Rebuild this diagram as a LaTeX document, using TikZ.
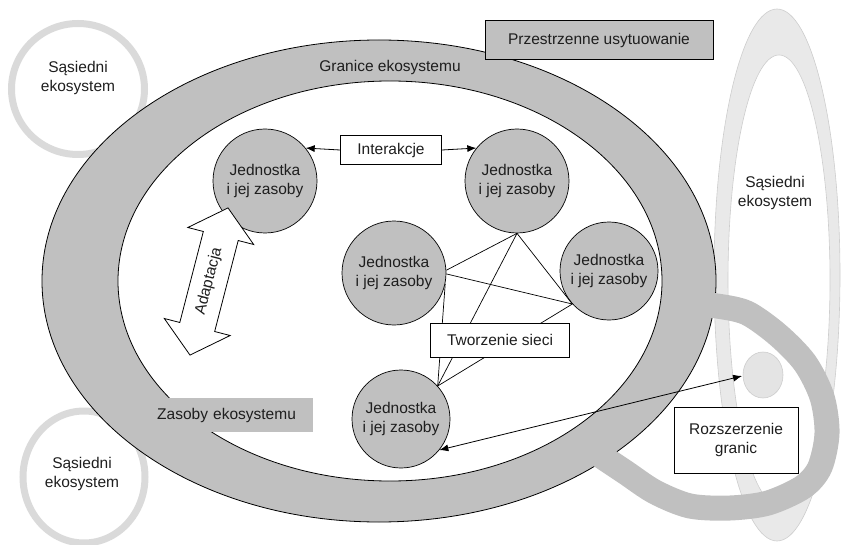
\documentclass[tikz,border=0pt]{standalone}
\usepackage{fontspec}
\setmainfont{Liberation Sans}
\usetikzlibrary{arrows.meta}
\definecolor{ringgray}{RGB}{192,192,192}
\definecolor{nbgray}{RGB}{218,218,218}
\definecolor{nbfill}{RGB}{233,233,233}
\definecolor{nbedge}{RGB}{205,205,205}
\definecolor{spotfill}{RGB}{228,228,228}
\definecolor{txt}{RGB}{30,30,30}
\begin{document}
\begin{tikzpicture}[x=1pt,y=-1pt,
  font=\fontsize{15.5}{19.5}\selectfont, text=txt,
  unit/.style={circle, draw=black, line width=0.7pt, fill=ringgray,
    minimum size=104pt, inner sep=0pt, align=center},
  whitebox/.style={draw=black, line width=0.8pt, fill=white, inner sep=0pt, align=center},
  label/.style={align=center, inner sep=0pt},
  net/.style={line width=0.7pt},
  tipped/.style={line width=0.8pt, -{Latex[length=9pt,width=7pt]}},
  bothtipped/.style={line width=0.8pt, {Latex[length=9pt,width=7pt]}-{Latex[length=9pt,width=7pt]}}]
\useasboundingbox (0,0) rectangle (842,545);

% neighbouring ecosystems on the left
\draw[nbgray, line width=7pt] (78,89) ellipse [x radius=66.5pt, y radius=65.5pt];
\node[label] (nbA) at (78,78) {Sąsiedni\\ekosystem};
\draw[nbgray, line width=7pt] (84,477) ellipse [x radius=61pt, y radius=66pt];
\node[label] (nbB) at (82,474) {Sąsiedni\\ekosystem};

% neighbouring ecosystem on the right
\filldraw[fill=nbfill, draw=nbedge, line width=0.6pt] (777,275) ellipse [x radius=63pt, y radius=266pt];
\filldraw[fill=white, draw=nbedge, line width=0.6pt] (779,280) ellipse [x radius=51pt, y radius=225pt];
\node[label] (nbC) at (775,193) {Sąsiedni\\ekosystem};

% ecosystem boundary ring
\filldraw[fill=ringgray, draw=black, line width=0.8pt] (379,281) ellipse [x radius=337pt, y radius=241pt];

% extension loop of the boundary
\draw[ringgray, line width=25pt] plot[smooth] coordinates {
  (690,304) (717,306) (747,313) (778,335) (805,363) (822,397) (827,433)
  (820,467) (803,487) (768,503) (730,508) (690,506) (655,492) (625,472) (595,452)};

% inner area of the ecosystem
\filldraw[fill=white, draw=black, line width=0.8pt] (390,281) ellipse [x radius=272pt, y radius=200pt];

% labels on the ring
\node[draw=black, line width=0.8pt, fill=ringgray, minimum width=228pt, minimum height=39pt]
  (place) at (599,40) {Przestrzenne usytuowanie};
\node[label] (bound) at (390,67) {Granice ekosystemu};
\node[fill=ringgray, anchor=west, minimum height=34pt, text width=149pt, inner xsep=7pt,
  inner ysep=0pt, align=left] (res) at (150,415) {Zasoby ekosystemu};

% units with their resources
\node[unit] (c1) at (265,181) {Jednostka\\i jej zasoby};
\node[unit] (c2) at (517,181) {Jednostka\\i jej zasoby};
\node[unit] (c3) at (394,273) {Jednostka\\i jej zasoby};
\node[unit, minimum size=98pt] (c4) at (609,271) {Jednostka\\i jej zasoby};
\node[unit, minimum size=98pt] (c5) at (401,419) {Jednostka\\i jej zasoby};

% network links
\draw[net] (c2.south) -- (c3.3);
\draw[net] (c2.south) -- (c4.222);
\draw[net] (c2.south) -- (c5.42);
\draw[net] (c3.-1) -- (c4.222);
\draw[net] (c3.-12) -- (c5.42);
\draw[net] (c4.222) -- (c5.42);

% interaction
\node[whitebox, minimum width=101pt, minimum height=29pt] (inter) at (391,150) {Interakcje};
\draw[tipped] (inter.west) -- (c1.39);
\draw[tipped] (inter.east) -- (c2.141);

% networking
\node[whitebox, minimum width=139pt, minimum height=34pt] (netw) at (500,340) {Tworzenie sieci};

% adaptation double arrow
\begin{scope}[shift={(209,281.5)}, rotate=75.5]
  \filldraw[fill=white, draw=black, line width=0.8pt]
    (-76,0) -- (-47,34) -- (-47,18) -- (47,18) -- (47,34) -- (76,0)
    -- (47,-34) -- (47,-18) -- (-47,-18) -- (-47,-34) -- cycle;
  \node[label, rotate=75.5] (adapt) at (0,0) {Adaptacja};
\end{scope}

% boundary extension
\filldraw[fill=spotfill, draw=nbedge, line width=0.6pt] (763,375) ellipse [x radius=20pt, y radius=23pt];
\coordinate (spot) at (742,376);
\draw[bothtipped] (c5.-39) -- (spot);
\node[whitebox, minimum width=124pt, minimum height=66pt] (ext) at (736,440) {Rozszerzenie\\granic};
\end{tikzpicture}
\end{document}
